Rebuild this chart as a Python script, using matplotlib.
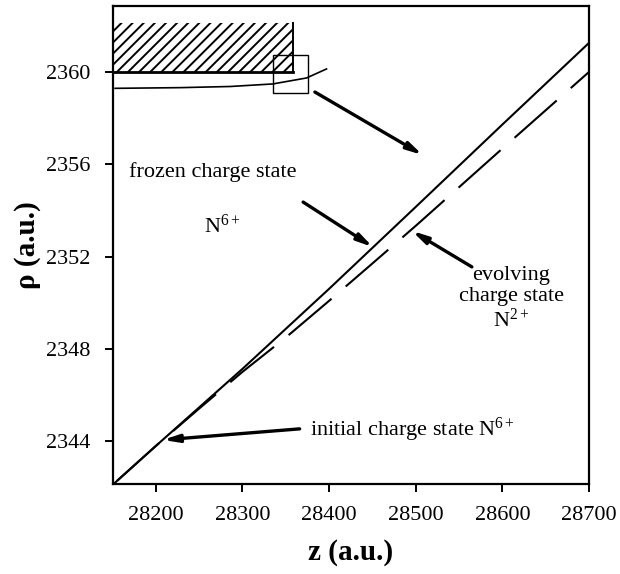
import matplotlib
matplotlib.use("Agg")
import matplotlib.pyplot as plt
from matplotlib.patches import Rectangle
import numpy as np

plt.rcParams['font.family'] = ['Liberation Serif', 'DejaVu Serif']
plt.rcParams['mathtext.fontset'] = 'custom'
plt.rcParams['mathtext.rm'] = 'Liberation Serif'
plt.rcParams['mathtext.it'] = 'Liberation Serif:italic'
plt.rcParams['hatch.linewidth'] = 1.4

# frozen charge state trajectory (N6+)
z_frozen = [28150, 28200, 28300, 28400, 28500, 28600, 28700]
rho_frozen = [2342.1, 2343.79, 2347.13, 2350.6, 2354.15, 2357.72, 2361.26]

# evolving charge state trajectory (N2+)
z_evol = [28150, 28200, 28250, 28300, 28350, 28400, 28450, 28500, 28600, 28700]
rho_evol = [2342.1, 2343.79, 2345.41, 2347.0, 2348.49, 2350.08, 2351.7, 2353.33, 2356.68, 2360.0]

# schematic electrode surface and field line near the slit
z_curve = [28153, 28228, 28286, 28335, 28374, 28397]
rho_curve = [2359.29, 2359.32, 2359.37, 2359.48, 2359.74, 2360.13]
electrode_z = (28150, 28358)
electrode_rho = (2360.0, 2362.12)
box_z = (28335, 28375.5)
box_rho = (2359.09, 2360.74)

xticks = [28200, 28300, 28400, 28500, 28600, 28700]
yticks = [2344, 2348, 2352, 2356, 2360]

fig = plt.figure(figsize=(6.2, 5.74), dpi=100)
ax = fig.add_axes([0.1815, 0.1568, 0.7685, 0.8336])

# hatched electrode
ax.add_patch(Rectangle((electrode_z[0], electrode_rho[0]), electrode_z[1] - electrode_z[0],
                       electrode_rho[1] - electrode_rho[0], hatch='///', fill=False,
                       linewidth=0, edgecolor='black'))
ax.plot([electrode_z[0], electrode_z[1]], [electrode_rho[0], electrode_rho[0]], color='black', lw=2.0)
ax.plot([electrode_z[1], electrode_z[1]], [electrode_rho[0], electrode_rho[1]], color='black', lw=1.4)
ax.plot(z_curve, rho_curve, color='black', lw=1.2)
ax.add_patch(Rectangle((box_z[0], box_rho[0]), box_z[1] - box_z[0], box_rho[1] - box_rho[0],
                       fill=False, edgecolor='black', lw=1.0))

# trajectories
ax.plot(z_frozen, rho_frozen, color='black', lw=1.5)
ax.plot(z_evol, rho_evol, color='black', lw=1.5, linestyle=(33, (27, 9)))

arrow = dict(arrowstyle='-|>,head_length=0.9,head_width=0.22', lw=2.4, color='black',
             shrinkA=0, shrinkB=0)
ax.annotate('', xy=(28508, 2356.4), xytext=(28383.6, 2359.13), arrowprops=arrow)
ax.annotate('', xy=(28450.6, 2352.41), xytext=(28370, 2354.36), arrowprops=arrow)
ax.annotate('', xy=(28495.6, 2353.11), xytext=(28564.8, 2351.55), arrowprops=arrow)
ax.annotate('', xy=(28208, 2344.05), xytext=(28366, 2344.53), arrowprops=arrow)

ax.text(28266, 2355.67, 'frozen charge state', fontsize=16, ha='center', va='center')
ax.text(28276, 2353.3, r'N$^{6+}$', fontsize=16, ha='center', va='center')
ax.text(28610, 2350.15, 'evolving\ncharge state\nN$^{2+}$', fontsize=16, ha='center',
        va='center', linespacing=1.15)
ax.text(28378, 2344.48, r'initial charge state N$^{6+}$', fontsize=16, ha='left', va='center')

ax.set_xlim(28150, 28700)
ax.set_ylim(2342.14, 2362.88)
ax.set_xticks(xticks)
ax.set_yticks(yticks)
ax.tick_params(direction='out', length=6, width=1.4, labelsize=16, pad=10)
for s in ax.spines.values():
    s.set_linewidth(1.6)

ax.set_xlabel('z (a.u.)', fontsize=21, fontweight='bold', labelpad=10)
ax.set_ylabel('ρ (a.u.)', fontsize=21, fontweight='bold', labelpad=3.5)

fig.savefig('out.png', dpi=100)
